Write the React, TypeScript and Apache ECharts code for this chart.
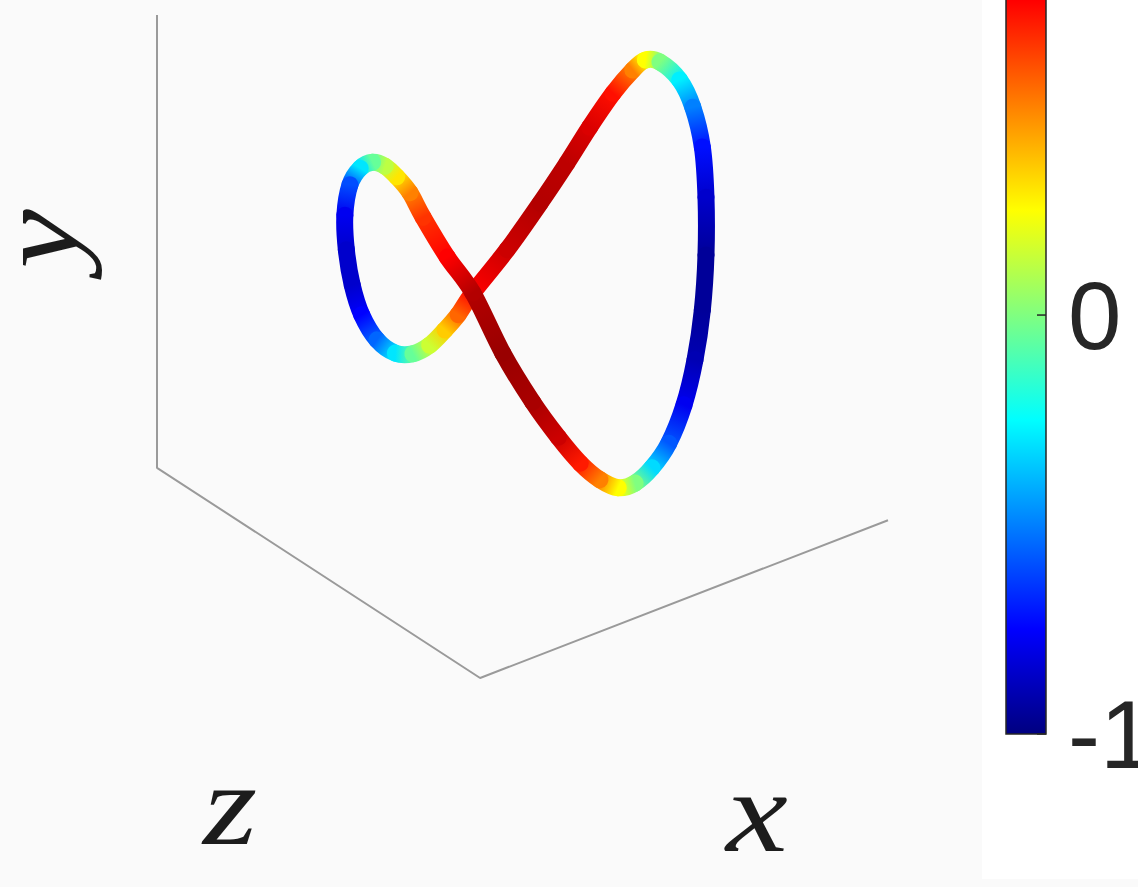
import { useEffect, useRef } from "react";
import * as echarts from "echarts";

// Projected view of the space curve (x to the right, y upward), walked as a closed loop.
const curveX = [
  39.7, 36.4, 34.6, 32.8, 31.2, 29.5, 27.8, 26.4, 25.7, 25.9, 26.7, 28.0, 30.1, 32.6, 35.0,
  37.3, 39.4, 41.2, 43.2, 47.9, 52.4, 56.1, 59.2, 62.4, 65.1, 66.8, 68.8, 71.5, 73.3, 74.6,
  75.1, 75.1, 74.6, 73.6, 72.1, 70.0, 67.7, 65.4, 63.1, 60.6, 57.9, 54.9, 51.4, 47.3, 43.2,
];
const curveY = [
  63.5, 69.5, 73.2, 75.6, 77.2, 77.8, 76.9, 74.4, 69.8, 64.6, 59.3, 54.8, 51.0, 49.0, 48.9,
  50.2, 52.5, 54.8, 58.1, 64.6, 71.6, 77.7, 83.1, 88.2, 91.7, 93.2, 92.9, 90.2, 86.1, 80.1,
  72.5, 63.8, 55.5, 48.0, 41.2, 35.4, 31.7, 29.4, 28.7, 29.9, 32.4, 36.3, 41.6, 49.0, 58.1,
];
// Colour value carried by each point of the curve.
const curveValue = [
  0.75, 0.65, 0.5, 0.3, 0.12, -0.05, -0.3, -0.6, -0.78, -0.85, -0.85, -0.75, -0.55, -0.3, -0.05,
  0.15, 0.35, 0.55, 0.75, 0.85, 0.9, 0.88, 0.82, 0.72, 0.5, 0.25, 0.0, -0.28, -0.5, -0.72,
  -0.85, -0.95, -0.95, -0.9, -0.78, -0.58, -0.32, 0.0, 0.25, 0.5, 0.7, 0.85, 0.92, 0.95, 0.9,
];

// Visible edges of the axes box: top of the y edge, back corner, z edge, x edge.
const frameX = [0, 0, 44.2, 100];
const frameY = [100, 31.7, 0, 23.8];

// Colour bar: full colour range, the part of it in view, and its ticks.
const colorRange = [-1, 1];
const colorView = [-1, 0.752];
const colorTickStep = 1;
const colorTicks = [-1, 0];

// Jet colormap, evenly spaced stops from -1 to 1.
const jetColors = [
  "#000080", "#0000ff", "#0080ff", "#00ffff", "#80ff80",
  "#ffff00", "#ff8000", "#ff0000", "#800000",
];

const hexToRgb = (h: string) => [
  parseInt(h.slice(1, 3), 16),
  parseInt(h.slice(3, 5), 16),
  parseInt(h.slice(5, 7), 16),
];

const jet = (v: number) => {
  const t = Math.min(1, Math.max(0, (v - colorRange[0]) / (colorRange[1] - colorRange[0])));
  const pos = t * (jetColors.length - 1);
  const k = Math.min(jetColors.length - 2, Math.floor(pos));
  const f = pos - k;
  const a = hexToRgb(jetColors[k]);
  const b = hexToRgb(jetColors[k + 1]);
  const c = a.map((av, j) => Math.round(av + (b[j] - av) * f));
  return `rgb(${c[0]},${c[1]},${c[2]})`;
};

const n = curveX.length;
const wrap = (k: number) => ((k % n) + n) % n;

// Each data item draws the stretch from its point to the next one as a smooth tube piece.
const renderSegment = (params: any, api: any) => {
  const i = params.dataIndex;
  const pt = (k: number) => api.coord([curveX[wrap(k)], curveY[wrap(k)]]);
  const p0 = pt(i - 1);
  const p1 = pt(i);
  const p2 = pt(i + 1);
  const p3 = pt(i + 2);
  const cp1 = [p1[0] + (p2[0] - p0[0]) / 6, p1[1] + (p2[1] - p0[1]) / 6];
  const cp2 = [p2[0] - (p3[0] - p1[0]) / 6, p2[1] - (p3[1] - p1[1]) / 6];
  return {
    type: "bezierCurve",
    shape: {
      x1: p1[0], y1: p1[1], x2: p2[0], y2: p2[1],
      cpx1: cp1[0], cpy1: cp1[1], cpx2: cp2[0], cpy2: cp2[1],
    },
    style: {
      fill: "none",
      lineWidth: 17,
      lineCap: "round",
      stroke: {
        type: "linear",
        x: p1[0], y: p1[1], x2: p2[0], y2: p2[1],
        global: true,
        colorStops: [
          { offset: 0, color: jet(curveValue[i]) },
          { offset: 1, color: jet(curveValue[wrap(i + 1)]) },
        ],
      },
    },
  };
};

// The bar spans the whole colour range (its top runs off the upper edge), with inward ticks on its right side.
const renderColorbar = (_params: any, api: any) => {
  const lo = api.coord([api.value(0), api.value(1)]);
  const hi = api.coord([api.value(2), api.value(3)]);
  const ticks = colorTicks.map((t) => {
    const p = api.coord([api.value(2), t]);
    return {
      type: "line",
      shape: { x1: p[0] - 9, y1: p[1], x2: p[0], y2: p[1] },
      style: { stroke: "#262626", lineWidth: 1.5 },
    };
  });
  return {
    type: "group",
    children: [
      {
        type: "rect",
        shape: { x: lo[0], y: hi[1], width: hi[0] - lo[0], height: lo[1] - hi[1] },
        style: {
          fill: {
            type: "linear",
            x: 0, y: 1, x2: 0, y2: 0,
            colorStops: jetColors.map((c, k) => ({ offset: k / (jetColors.length - 1), color: c })),
          },
          stroke: "#262626",
          lineWidth: 1.5,
        },
      },
      ...ticks,
    ],
  };
};

const labelStyle = {
  font: 'italic 116px "Liberation Serif", "DejaVu Serif", serif',
  fill: "#1c1c1c",
  align: "center",
  verticalAlign: "middle",
  lineHeight: 70,
};

export default function App() {
  const ref = useRef<HTMLDivElement>(null);

  useEffect(() => {
    if (!ref.current) return;
    const chart = echarts.init(ref.current, null, { renderer: "svg" });
    chart.setOption({
      animation: false,
      backgroundColor: "#fafafa",
      grid: [
        { left: 157, top: 15, width: 731, height: 663, outerBoundsMode: "none" },
        { left: 1006, top: 0, width: 40, height: 734, outerBoundsMode: "none" },
      ],
      xAxis: [
        { type: "value", min: 0, max: 100, show: false, gridIndex: 0 },
        { type: "value", min: 0, max: 1, show: false, gridIndex: 1 },
      ],
      yAxis: [
        { type: "value", min: 0, max: 100, show: false, gridIndex: 0 },
        {
          type: "value",
          gridIndex: 1,
          min: colorView[0],
          max: colorView[1],
          interval: colorTickStep,
          position: "right",
          axisLine: { show: false },
          axisTick: { show: false },
          splitLine: { show: false },
          axisLabel: {
            margin: 22,
            fontSize: 96,
            fontFamily: '"Liberation Sans", Arial, sans-serif',
            color: "#262626",
            showMaxLabel: false,
          },
        },
      ],
      graphic: [
        {
          type: "rect",
          z: -10,
          shape: { x: 982, y: 0, width: 156, height: 879 },
          style: { fill: "#ffffff" },
        },
        { type: "text", x: 38, y: 239, rotation: Math.PI / 2, scaleX: 1.15, style: { text: "y", ...labelStyle } },
        { type: "text", x: 230, y: 805, scaleX: 1.2, style: { text: "z", ...labelStyle } },
        { type: "text", x: 757, y: 812, scaleX: 1.2, style: { text: "x", ...labelStyle } },
      ],
      series: [
        {
          type: "line",
          xAxisIndex: 0,
          yAxisIndex: 0,
          data: frameX.map((x, i) => [x, frameY[i]]),
          symbol: "none",
          clip: false,
          silent: true,
          z: 1,
          lineStyle: { color: "#9a9a9a", width: 2 },
        },
        {
          type: "custom",
          xAxisIndex: 0,
          yAxisIndex: 0,
          clip: false,
          z: 3,
          data: curveX.map((x, i) => [x, curveY[i], curveValue[i]]),
          encode: { x: 0, y: 1 },
          renderItem: renderSegment,
        },
        {
          type: "custom",
          xAxisIndex: 1,
          yAxisIndex: 1,
          clip: false,
          z: 2,
          data: [[0, colorRange[0], 1, colorRange[1]]],
          encode: { x: [0, 2], y: [1, 3] },
          renderItem: renderColorbar,
        },
      ],
    });
    return () => chart.dispose();
  }, []);

  return (
    <div
      ref={ref}
      style={{ position: "fixed", left: 0, top: 0, width: 1138, height: 887 }}
    />
  );
}
